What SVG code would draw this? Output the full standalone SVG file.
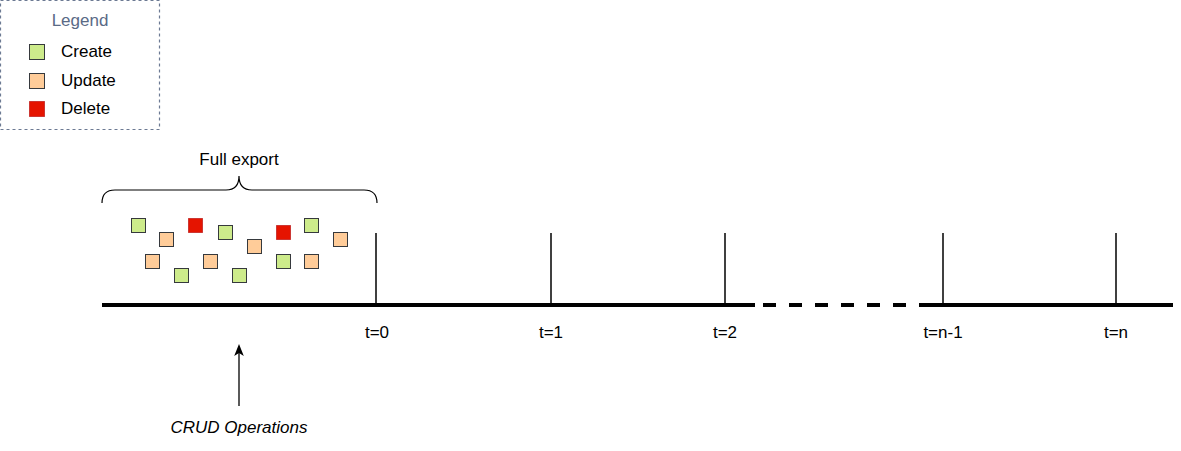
<svg xmlns="http://www.w3.org/2000/svg" width="1181" height="451" viewBox="0 0 1181 451">
<style>
text{font-family:"Liberation Sans",Arial,sans-serif;font-size:17px;fill:#000}
.c{fill:#cdeb8b;stroke:#36393d;stroke-width:1}
.u{fill:#ffcc99;stroke:#36393d;stroke-width:1}
.d{fill:#e51400;stroke:#b20000;stroke-opacity:0.6;stroke-width:1}
.tick{stroke:#000;stroke-width:1.5}
.lbl{text-anchor:middle}
</style>
<defs>
<marker id="arr" viewBox="0 0 10 10" refX="5" refY="5" markerWidth="12" markerHeight="12" markerUnits="userSpaceOnUse" orient="auto">
<path d="M0,1 L10,5 L0,9 L2.5,5 Z" fill="#000"/>
</marker>
</defs>
<rect width="1181" height="451" fill="#fff"/>
<g id="legend">
<rect x="0.5" y="0.5" width="159" height="129" fill="#fff" stroke="#6c7a93" stroke-width="1.2" stroke-dasharray="3 3"/>
<text x="80" y="26" class="lbl" style="fill:#5a6a86">Legend</text>
<rect class="c" x="29.5" y="44.5" width="15" height="15"/>
<text x="61" y="57">Create</text>
<rect class="u" x="29.5" y="73.5" width="15" height="15"/>
<text x="61" y="86">Update</text>
<rect class="d" x="29.5" y="101.5" width="15" height="15"/>
<text x="61" y="114">Delete</text>
</g>
<g id="full-export">
<path d="M102,203 Q102,190 115,190 L226,190 Q239,190 239,176 Q239,190 252,190 L364,190 Q377,190 377,203" fill="none" stroke="#000" stroke-width="1.2"/>
<text x="239" y="165" class="lbl">Full export</text>
</g>
<g id="operations">
<rect class="c" x="131.5" y="218.5" width="14" height="14"/>
<rect class="u" x="159.5" y="232.5" width="14" height="14"/>
<rect class="d" x="188.5" y="218.5" width="14" height="14"/>
<rect class="c" x="218.5" y="225.5" width="14" height="14"/>
<rect class="u" x="247.5" y="239.5" width="14" height="14"/>
<rect class="d" x="276.5" y="225.5" width="14" height="14"/>
<rect class="c" x="304.5" y="218.5" width="14" height="14"/>
<rect class="u" x="333.5" y="232.5" width="14" height="14"/>
<rect class="u" x="145.5" y="254.5" width="14" height="14"/>
<rect class="c" x="174.5" y="268.5" width="14" height="14"/>
<rect class="u" x="203.5" y="254.5" width="14" height="14"/>
<rect class="c" x="232.5" y="268.5" width="14" height="14"/>
<rect class="c" x="276.5" y="254.5" width="14" height="14"/>
<rect class="u" x="304.5" y="254.5" width="14" height="14"/>
</g>
<g id="timeline">
<line x1="102" y1="305" x2="755" y2="305" stroke="#000" stroke-width="4"/>
<line x1="755" y1="305" x2="921" y2="305" stroke="#000" stroke-width="4" stroke-dasharray="13 13" stroke-dashoffset="-8"/>
<line x1="921" y1="305" x2="1173" y2="305" stroke="#000" stroke-width="4"/>
</g>
<g id="t0"><line class="tick" x1="376" y1="233" x2="376" y2="305"/><text x="377" y="338" class="lbl">t=0</text></g>
<g id="t1"><line class="tick" x1="551" y1="233" x2="551" y2="305"/><text x="551" y="338" class="lbl">t=1</text></g>
<g id="t2"><line class="tick" x1="725" y1="233" x2="725" y2="305"/><text x="725" y="338" class="lbl">t=2</text></g>
<g id="tn1"><line class="tick" x1="943" y1="233" x2="943" y2="305"/><text x="943" y="338" class="lbl">t=n-1</text></g>
<g id="tn"><line class="tick" x1="1116" y1="233" x2="1116" y2="305"/><text x="1116" y="338" class="lbl">t=n</text></g>
<g id="connectors">
<line x1="239" y1="406" x2="239" y2="350" stroke="#000" stroke-width="1.3" marker-end="url(#arr)"/>
</g>
<g id="crud">
<text x="239" y="433" class="lbl" font-style="italic">CRUD Operations</text>
</g>
</svg>
